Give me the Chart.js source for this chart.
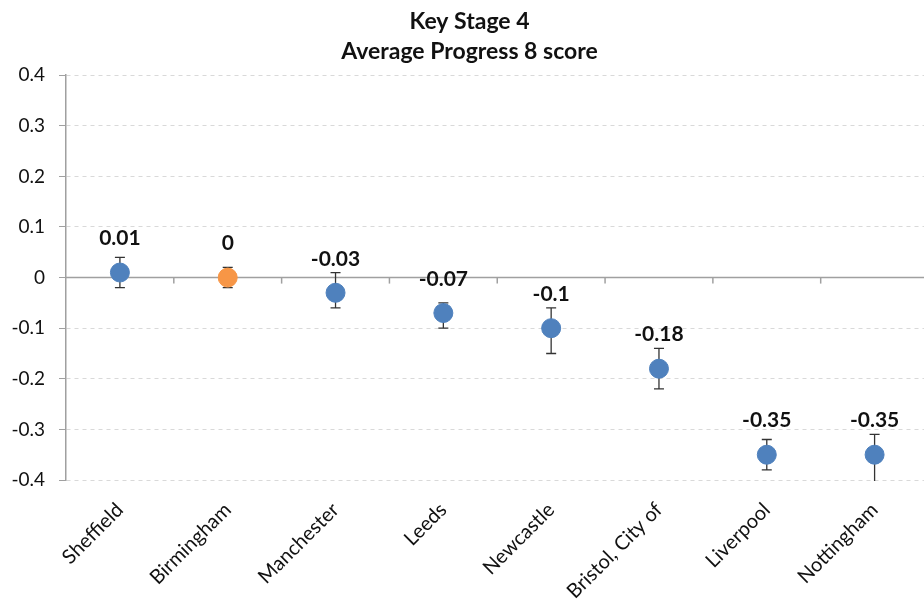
<!DOCTYPE html>
<html>
<head>
<meta charset="utf-8">
<script src="https://cdn.jsdelivr.net/npm/chart.js@4"></script>
<style>
  html, body { margin: 0; padding: 0; background: #fff; overflow: hidden; }
  /* plot runs a little past the right edge of the window, as in the original */
  #wrap { width: 939px; height: 611px; }
</style>
</head>
<body>
<div id="wrap"><canvas id="chart"></canvas></div>
<script>
// data
const cities = ['Sheffield', 'Birmingham', 'Manchester', 'Leeds', 'Newcastle', 'Bristol, City of', 'Liverpool', 'Nottingham'];
const scores = [0.01, 0, -0.03, -0.07, -0.1, -0.18, -0.35, -0.35];
const errLow = [-0.02, -0.02, -0.06, -0.10, -0.15, -0.22, -0.38, -0.42];
const errHigh = [0.04, 0.02, 0.01, -0.05, -0.06, -0.14, -0.32, -0.31];
const yTicks = [0.4, 0.3, 0.2, 0.1, 0, -0.1, -0.2, -0.3, -0.4];

const blue = '#4f81bd';
const orange = '#f79646';
const pointColors = cities.map(c => c === 'Birmingham' ? orange : blue);
const fontFamily = 'Lato, "Liberation Sans", sans-serif';

// zero line, category ticks, error bars and value labels
const extras = {
  id: 'extras',
  beforeDatasetsDraw(chart) {
    const { ctx, chartArea, scales } = chart;
    const y0 = scales.y.getPixelForValue(0);
    ctx.save();
    ctx.strokeStyle = '#a0a0a0';
    ctx.lineWidth = 1.5;
    ctx.beginPath();
    ctx.moveTo(chartArea.left, y0);
    ctx.lineTo(chartArea.right, y0);
    ctx.stroke();
    // tick marks between categories
    const step = scales.x.getPixelForValue(1) - scales.x.getPixelForValue(0);
    for (let i = 1; i < cities.length; i++) {
      const x = scales.x.getPixelForValue(i) - step / 2;
      ctx.beginPath();
      ctx.moveTo(x, y0);
      ctx.lineTo(x, y0 + 6);
      ctx.stroke();
    }
    // error bars
    ctx.beginPath();
    ctx.rect(chartArea.left, chartArea.top, chartArea.right - chartArea.left, chartArea.bottom - chartArea.top + 1);
    ctx.clip();
    ctx.strokeStyle = '#333';
    ctx.lineWidth = 1.3;
    cities.forEach((c, i) => {
      const x = scales.x.getPixelForValue(i);
      const yl = scales.y.getPixelForValue(errLow[i]);
      const yh = scales.y.getPixelForValue(errHigh[i]);
      ctx.beginPath();
      ctx.moveTo(x, yl); ctx.lineTo(x, yh);
      ctx.moveTo(x - 5, yl); ctx.lineTo(x + 5, yl);
      ctx.moveTo(x - 5, yh); ctx.lineTo(x + 5, yh);
      ctx.stroke();
    });
    ctx.restore();
  },
  afterDatasetsDraw(chart) {
    const { ctx, scales } = chart;
    ctx.save();
    ctx.font = 'bold 21px ' + fontFamily;
    ctx.fillStyle = '#111';
    ctx.textAlign = 'center';
    ctx.textBaseline = 'middle';
    scores.forEach((v, i) => {
      const x = scales.x.getPixelForValue(i);
      const y = scales.y.getPixelForValue(v);
      ctx.fillText(String(v), x, y - 34);
    });
    ctx.restore();
  }
};

new Chart(document.getElementById('chart'), {
  type: 'line',
  data: {
    labels: cities,
    datasets: [{
      label: 'Average Progress 8 score',
      data: scores,
      showLine: false,
      pointRadius: 9.5,
      pointHoverRadius: 9.5,
      pointBackgroundColor: pointColors,
      pointBorderColor: pointColors,
      pointBorderWidth: 1
    }]
  },
  options: {
    responsive: true,
    maintainAspectRatio: false,
    animation: false,
    plugins: {
      legend: { display: false },
      tooltip: { enabled: false },
      title: {
        display: true,
        text: ['Key Stage 4', 'Average Progress 8 score'],
        color: '#111',
        font: { family: fontFamily, size: 23, weight: 'bold', lineHeight: 1.33 },
        padding: { top: 6, bottom: 8 }
      }
    },
    scales: {
      x: {
        offset: true,
        grid: { display: false },
        border: { display: false },
        ticks: {
          autoSkip: false,
          maxRotation: 45,
          minRotation: 45,
          padding: 10,
          color: '#111',
          font: { family: fontFamily, size: 20 }
        },
        afterFit(scale) {
          scale.height = 131;
          scale.paddingLeft = 0;
          scale.paddingRight = 0;
        }
      },
      y: {
        min: -0.4,
        max: 0.4,
        afterBuildTicks(scale) { scale.ticks = yTicks.map(v => ({ value: v })); },
        grid: {
          color: '#d9d9d9',
          tickColor: '#a0a0a0',
          tickLength: 7
        },
        border: { display: true, color: '#a0a0a0', width: 1.5, dash: [4, 4] },
        ticks: {
          color: '#111',
          padding: 14,
          font: { family: fontFamily, size: 19 },
          callback: v => String(Math.round(v * 10) / 10)
        },
        afterFit(scale) { scale.width = 66; }
      }
    }
  },
  plugins: [extras]
});
</script>
</body>
</html>
